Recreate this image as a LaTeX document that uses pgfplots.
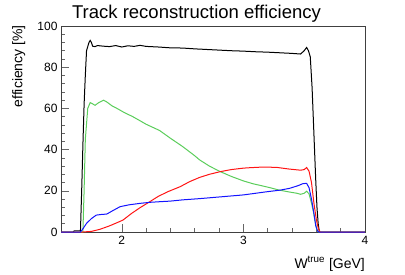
\documentclass[border=0pt]{standalone}
\usepackage{pgfplots}
\pgfplotsset{compat=1.18}
\usepackage{fontspec}
\setmainfont{Liberation Sans}
\definecolor{rgreen}{RGB}{90,205,90}
\definecolor{rred}{RGB}{255,20,20}
\definecolor{rblue}{RGB}{20,20,255}
\begin{document}
\begin{tikzpicture}
\useasboundingbox (0,0) rectangle (405pt,274pt);
\begin{axis}[
  at={(61pt,42pt)}, anchor=south west,
  scale only axis, width=304pt, height=206pt,
  xmin=1.5, xmax=4, ymin=0, ymax=100,
  xtick={2,3,4}, ytick={0,20,40,60,80,100},
  minor x tick num=4, minor y tick num=4,
  xtick pos=bottom, ytick pos=left,
  tick align=inside,
  major tick length=8pt, minor tick length=4pt,
  axis line style={black!75, line width=0.8pt},
  tick style={black!60, line width=0.6pt},
  tick label style={font=\fontsize{12}{14}\selectfont},
  /pgf/number format/assume math mode=true,
  xticklabel style={yshift=-1pt},
  clip=true,
]
% black
\addplot[black, line width=1pt] coordinates {
(1.5,0)(1.60,0)(1.61,0.6)(1.66,0.6)(1.67,20)(1.68,42)(1.69,62)(1.70,76)(1.71,88)(1.72,90)(1.73,92)(1.74,93)(1.75,92)(1.76,90.2)(1.78,90)(1.8,90.5)(1.85,90.2)(1.9,90)(1.95,90.5)(2.0,89.8)(2.05,90.4)(2.1,90.1)(2.15,90.6)(2.2,90.1)(2.3,89.8)(2.4,89.4)(2.5,89.3)(2.6,88.9)(2.7,88.6)(2.8,88.3)(2.9,88)(3.0,87.8)(3.1,87.5)(3.2,87.3)(3.3,87)(3.4,86.7)(3.47,86.4)(3.5,88)(3.52,89.6)(3.535,88)(3.55,85)(3.565,70)(3.575,55)(3.585,40)(3.595,25)(3.605,12)(3.615,4)(3.625,0)(4,0)
};
% green
\addplot[rgreen, line width=1pt] coordinates {
(1.5,0)(1.68,0)(1.69,20)(1.70,45)(1.72,60)(1.74,62.8)(1.76,62.2)(1.78,61.5)(1.81,62.8)(1.85,64)(1.88,63)(1.92,61.2)(1.96,60)(2.02,58)(2.09,56)(2.15,54)(2.2,52.3)(2.31,49.3)(2.4,45.5)(2.5,41.5)(2.6,37)(2.64,35)(2.72,32)(2.81,29.3)(2.9,27)(3.0,24.8)(3.08,23.4)(3.14,22.6)(3.22,21.5)(3.29,20.4)(3.37,19.5)(3.44,18.8)(3.47,18.3)(3.50,18.8)(3.52,19.8)(3.54,18.5)(3.56,14)(3.575,10)(3.59,5)(3.605,1)(3.62,0)(4,0)
};
% red
\addplot[rred, line width=1pt] coordinates {
(1.5,0)(1.68,0)(1.75,0.3)(1.82,1.3)(1.9,3)(1.96,4.5)(2.01,5.8)(2.08,9)(2.15,11.8)(2.23,14.7)(2.3,17.3)(2.38,19.6)(2.48,22)(2.56,24.5)(2.64,26.5)(2.72,28)(2.81,29.3)(2.9,30.3)(3.0,31)(3.05,31.2)(3.15,31.5)(3.27,31.4)(3.37,30.6)(3.47,30)(3.5,30.3)(3.52,31.3)(3.54,29.5)(3.56,24)(3.58,14)(3.6,6)(3.615,2)(3.63,0)(4,0)
};
% blue
\addplot[rblue, line width=1pt] coordinates {
(1.5,0)(1.66,0)(1.68,1.5)(1.71,4.2)(1.75,6.5)(1.79,8.2)(1.83,8.5)(1.876,8.7)(1.93,10.5)(1.986,12.3)(2.06,13.2)(2.15,13.9)(2.23,14.4)(2.31,14.7)(2.4,15)(2.5,15.6)(2.64,16.2)(2.8,17)(2.9,17.5)(3.0,18)(3.1,18.8)(3.2,19.6)(3.3,20.3)(3.38,21.2)(3.45,22.5)(3.49,23.5)(3.52,23.6)(3.54,21.5)(3.56,16)(3.58,9)(3.595,3)(3.61,0.5)(3.62,0)(4,0)
};
\end{axis}
\node[anchor=base, font=\fontsize{18.5}{22}\selectfont] at (196.5pt,255.5pt) {Track reconstruction efficiency};
\node[anchor=base east, inner sep=0pt, font=\fontsize{14}{16}\selectfont] at (365pt,6pt) {W\textsuperscript{true} [GeV]};
\node[rotate=90, anchor=base east, inner sep=0pt, font=\fontsize{14}{16}\selectfont] at (22.5pt,249pt) {efficiency [\%]};
\end{tikzpicture}
\end{document}
